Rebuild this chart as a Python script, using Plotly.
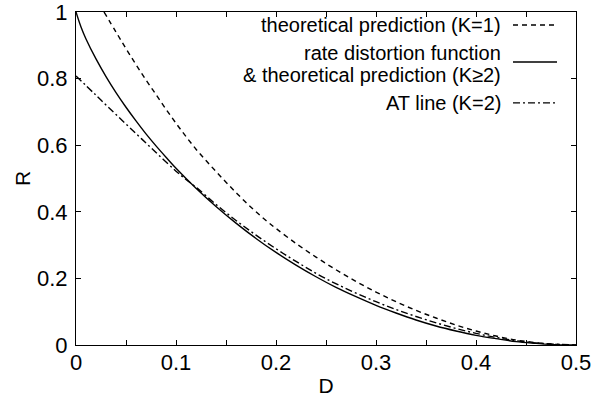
import plotly.graph_objects as go

# ---- data ----
D_rd = [0.0, 0.005, 0.01, 0.02, 0.03, 0.04, 0.05, 0.06, 0.07, 0.08, 0.09, 0.10,
        0.12, 0.14, 0.16, 0.18, 0.20, 0.22, 0.24, 0.26, 0.28, 0.30, 0.32, 0.34,
        0.36, 0.38, 0.40, 0.42, 0.44, 0.46, 0.48, 0.50]
R_rd = [1.0, 0.955, 0.919, 0.859, 0.806, 0.758, 0.714, 0.673, 0.634, 0.598, 0.564, 0.531,
        0.471, 0.416, 0.366, 0.320, 0.278, 0.240, 0.205, 0.173, 0.145, 0.119, 0.096, 0.075,
        0.057, 0.042, 0.029, 0.019, 0.010, 0.005, 0.001, 0.0]

D_k1 = [0.028, 0.04, 0.05, 0.06, 0.07, 0.08, 0.09, 0.10, 0.11, 0.12, 0.13, 0.14, 0.15,
        0.16, 0.17, 0.18, 0.19, 0.20, 0.22, 0.24, 0.26, 0.28, 0.30, 0.32, 0.34, 0.36,
        0.38, 0.40, 0.42, 0.44, 0.46, 0.48, 0.50]
R_k1 = [1.0, 0.940, 0.890, 0.842, 0.796, 0.752, 0.708, 0.666, 0.626, 0.588, 0.554, 0.521, 0.489,
        0.458, 0.428, 0.400, 0.374, 0.350, 0.305, 0.264, 0.226, 0.191, 0.159, 0.130, 0.104, 0.081,
        0.060, 0.042, 0.027, 0.015, 0.007, 0.002, 0.0]

D_at = [0.0, 0.02, 0.04, 0.06, 0.08, 0.10, 0.11, 0.12, 0.14, 0.16, 0.18, 0.20, 0.22, 0.25,
        0.30, 0.35, 0.40, 0.45, 0.50]
R_at = [0.808, 0.750, 0.692, 0.635, 0.578, 0.522, 0.497, 0.474, 0.422, 0.374, 0.330, 0.289, 0.251, 0.199,
        0.130, 0.076, 0.035, 0.009, 0.0]

x_ticks = [0, 0.05, 0.1, 0.15, 0.2, 0.25, 0.3, 0.35, 0.4, 0.45, 0.5]
x_labels = ["0", "", "0.1", "", "0.2", "", "0.3", "", "0.4", "", "0.5"]
y_ticks = [0, 0.2, 0.4, 0.6, 0.8, 1.0]
y_labels = ["0", "0.2", "0.4", "0.6", "0.8", "1"]

legend_lines = ["theoretical prediction (K=1)",
                "rate distortion function",
                "& theoretical prediction (K≥2)",
                "AT line (K=2)"]

FONT = "Liberation Sans, Arial, Helvetica, sans-serif"
K1_DASH = "5px,4px"
AT_DASH = "7px,3px,2px,3px"

fig = go.Figure()
fig.add_trace(go.Scatter(x=D_k1, y=R_k1, mode="lines", showlegend=False, line_shape="spline",
                         line=dict(color="black", width=1.4, dash=K1_DASH)))
fig.add_trace(go.Scatter(x=D_rd, y=R_rd, mode="lines", showlegend=False, line_shape="spline",
                         line=dict(color="black", width=1.4)))
fig.add_trace(go.Scatter(x=D_at, y=R_at, mode="lines", showlegend=False, line_shape="spline",
                         line=dict(color="black", width=1.4, dash=AT_DASH)))

axis_common = dict(showline=True, linecolor="black", linewidth=1.2, mirror="allticks",
                   ticks="inside", ticklen=5, tickcolor="black", tickwidth=1.2,
                   showgrid=False, zeroline=False, automargin=False,
                   ticklabeloverflow="allow",
                   tickfont=dict(family=FONT, size=22, color="black"))

fig.update_layout(
    width=609, height=398,
    margin=dict(l=76, r=33, t=12, b=53),
    paper_bgcolor="white", plot_bgcolor="white",
    xaxis=dict(range=[0, 0.5], tickmode="array", tickvals=x_ticks, ticktext=x_labels,
               ticklabelstandoff=-3,
               title=dict(text="D", font=dict(family=FONT, size=21, color="black"), standoff=4),
               **axis_common),
    yaxis=dict(range=[0, 1], tickmode="array", tickvals=y_ticks, ticktext=y_labels,
               ticklabelstandoff=3,
               title=dict(text="R", font=dict(family=FONT, size=21, color="black"), standoff=0),
               **axis_common),
)

# legend drawn as right-aligned text with the line sample on its right
text_x = 0.854
text_rows = [0.961, 0.877, 0.811, 0.727]
for ty, name in zip(text_rows, legend_lines):
    fig.add_annotation(x=text_x, y=ty, xref="paper", yref="paper", text=name,
                       showarrow=False, xanchor="right", yanchor="middle", align="right",
                       font=dict(family=FONT, size=20, color="black"))
for ly, dash in [(0.961, K1_DASH), (0.85, "solid"), (0.727, AT_DASH)]:
    fig.add_shape(type="line", xref="paper", yref="paper", x0=0.874, x1=0.962, y0=ly, y1=ly,
                  line=dict(color="black", width=1.4, dash=dash))

fig.write_html("out.html", config={"displayModeBar": False},
               post_script="document.body.style.margin='0';document.body.style.overflow='hidden';")
